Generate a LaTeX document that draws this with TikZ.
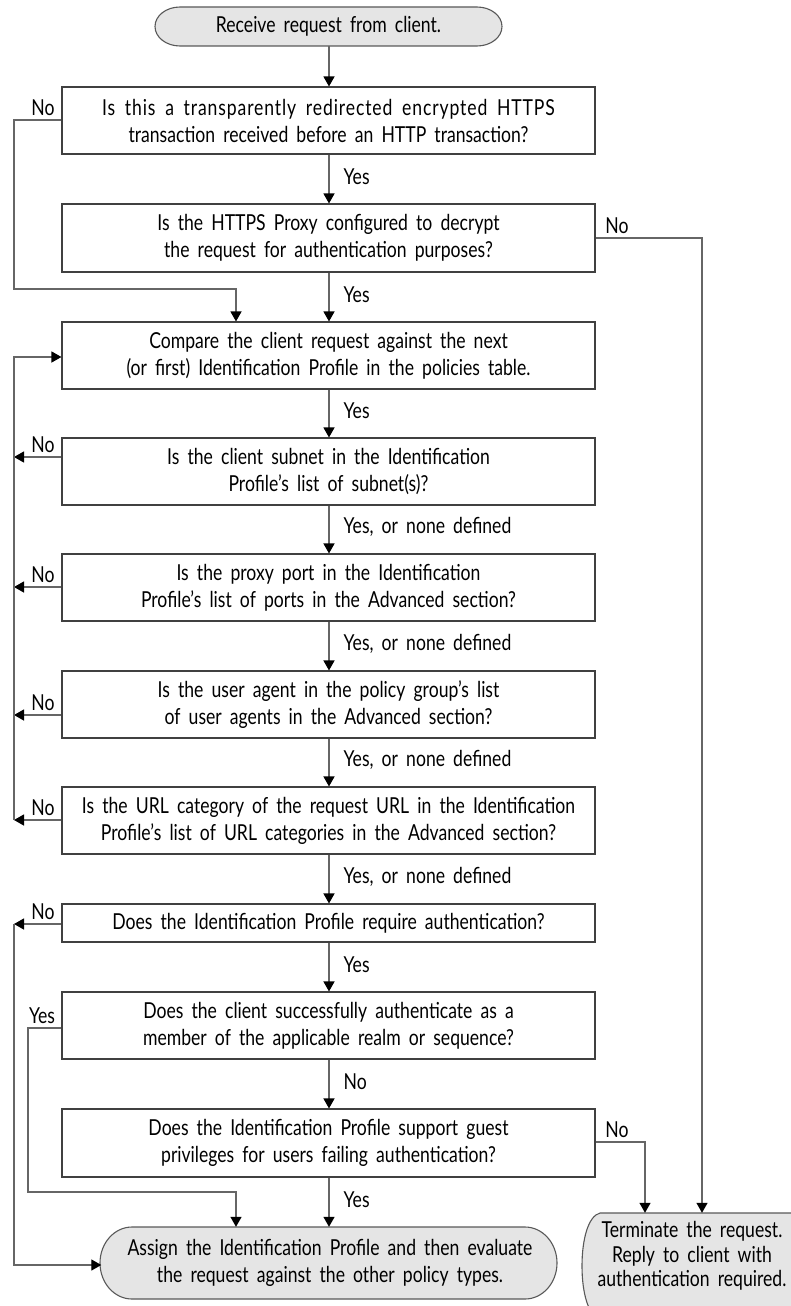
\documentclass[tikz,border=0pt]{standalone}
\usepackage{fontspec}
\setmainfont[FakeStretch=0.8,WordSpace=1.8]{Lato}
\usetikzlibrary{arrows.meta}
\begin{document}
\begin{tikzpicture}[x=1pt,y=1pt,
  txt/.style={font=\fontsize{22}{27}\selectfont, inner sep=0pt, align=center},
  box/.style={txt, draw=black!75, line width=1.1pt, fill=white, minimum width=533pt},
  termshape/.style={draw=black!65, line width=1.1pt, fill=black!10},
  conn/.style={draw=black!60, line width=1.3pt},
  arr/.style={conn, -{Triangle[width=11pt,length=10pt,fill=black,color=black]}},
  lbl/.style={txt, anchor=west},
  sidelbl/.style={txt, anchor=south}]
\useasboundingbox (0,0) rectangle (791,-1306);

% terminal shapes
\filldraw[termshape] (180,-7) -- (477,-7) arc[start angle=90,end angle=-90,x radius=25,y radius=19.5] -- (180,-46) arc[start angle=270,end angle=90,x radius=25,y radius=19.5] -- cycle;
\filldraw[termshape] (132,-1227) -- (525,-1227) arc[start angle=90,end angle=-90,x radius=32,y radius=36] -- (132,-1299) arc[start angle=270,end angle=90,x radius=32,y radius=36] -- cycle;
\filldraw[termshape] (600,-1213) -- (795,-1213) .. controls (805,-1216) and (809,-1240) .. (809,-1266) .. controls (809,-1292) and (805,-1316) .. (795,-1319) -- (600,-1319) .. controls (588,-1316) and (582,-1292) .. (582,-1266) .. controls (582,-1240) and (588,-1216) .. (600,-1213) -- cycle;

\node[txt, minimum width=347pt, minimum height=39pt] (start) at (328.5,-26.5) {Receive request from client.};
\node[box, minimum height=67pt] (b1) at (328.5,-120.5) {{\addfontfeature{LetterSpace=4}Is this a transparently redirected encrypted HTTPS}\\transaction received before an HTTP transaction?};
\node[box, minimum height=68pt] (b2) at (328.5,-238) {Is the HTTPS Proxy configured to decrypt\\the request for authentication purposes?};
\node[box, minimum height=67pt] (b3) at (328.5,-355.5) {Compare the client request against the next\\(or first) Identification Profile in the policies table.};
\node[box, minimum height=67pt] (b4) at (328.5,-471.5) {Is the client subnet in the Identification\\Profile’s list of subnet(s)?};
\node[box, minimum height=67pt] (b5) at (328.5,-587.5) {Is the proxy port in the Identification\\Profile’s list of ports in the Advanced section?};
\node[box, minimum height=67pt] (b6) at (328.5,-704.5) {Is the user agent in the policy group’s list\\of user agents in the Advanced section?};
\node[box, minimum height=67pt] (b7) at (328.5,-820.5) {Is the URL category of the request URL in the Identification\\Profile’s list of URL categories in the Advanced section?};
\node[box, minimum height=38pt] (b8) at (328.5,-923) {Does the Identification Profile require authentication?};
\node[box, minimum height=67pt] (b9) at (328.5,-1025.5) {Does the client successfully authenticate as a\\member of the applicable realm or sequence?};
\node[box, minimum height=68pt] (b10) at (328.5,-1143) {Does the Identification Profile support guest\\privileges for users failing authentication?};
\node[txt, minimum width=457pt, minimum height=72pt] (assign) at (330,-1263) {Assign the Identification Profile and then evaluate\\the request against the other policy types.};
\node[txt, font=\fontsize{22}{24.5}\selectfont, minimum height=86pt] (term) at (692,-1256) {Terminate the request.\\Reply to client with\\authentication required.};

% main spine
\draw[arr] (start.south -| 329,0) -- (b1.north -| 329,0);
\draw[arr] (b1.south -| 329,0) -- node[lbl, pos=0.45, xshift=14pt] {Yes} (b2.north -| 329,0);
\draw[arr] (b2.south -| 329,0) -- node[lbl, pos=0.45, xshift=14pt] {Yes} (b3.north -| 329,0);
\draw[arr] (b3.south -| 329,0) -- node[lbl, pos=0.45, xshift=14pt] {Yes} (b4.north -| 329,0);
\draw[arr] (b4.south -| 329,0) -- node[lbl, pos=0.45, xshift=14pt] {Yes, or none defined} (b5.north -| 329,0);
\draw[arr] (b5.south -| 329,0) -- node[lbl, pos=0.45, xshift=14pt] {Yes, or none defined} (b6.north -| 329,0);
\draw[arr] (b6.south -| 329,0) -- node[lbl, pos=0.45, xshift=14pt] {Yes, or none defined} (b7.north -| 329,0);
\draw[arr] (b7.south -| 329,0) -- node[lbl, pos=0.45, xshift=14pt] {Yes, or none defined} (b8.north -| 329,0);
\draw[arr] (b8.south -| 329,0) -- node[lbl, pos=0.45, xshift=14pt] {Yes} (b9.north -| 329,0);
\draw[arr] (b9.south -| 329,0) -- node[lbl, pos=0.45, xshift=14pt] {No} (b10.north -| 329,0);
\draw[arr] (b10.south -| 329,0) -- node[lbl, pos=0.45, xshift=14pt] {Yes} (assign.north -| 329,0);

% b1 No -> b3
\coordinate (c1) at (14,-120);
\coordinate (c2) at (14,-289);
\coordinate (c3) at (236,-289);
\draw[arr] (b1.west |- c1) -- (c1) -- (c2) -- (c3) -- (b3.north -| c3);
\node[sidelbl] at (43,-116) {No};

% b2 No -> term
\coordinate (d1) at (702,-238);
\draw[arr] (b2.east |- d1) -- (d1) -- (term.north -| d1);
\node[sidelbl] at (617,-234) {No};

% loop back
\coordinate (l3) at (14,-357);
\coordinate (l4) at (14,-457);
\coordinate (l5) at (14,-587);
\coordinate (l6) at (14,-715);
\coordinate (l7) at (14,-820);
\coordinate (l8) at (14,-924);
\coordinate (l9) at (14,-1265);
\draw[arr] (b4.west |- l4) -- (l4);
\draw[arr] (b5.west |- l5) -- (l5);
\draw[arr] (b6.west |- l6) -- (l6);
\draw[arr] (b7.west |- l7) -- (l7);
\draw[arr] (l7) -- (l3) -- (b3.west |- l3);
\node[sidelbl] at (43,-453) {No};
\node[sidelbl] at (43,-583) {No};
\node[sidelbl] at (43,-711) {No};
\node[sidelbl] at (43,-816) {No};

% b8 No
\draw[arr] (b8.west |- l8) -- (l8);
\draw[arr] (l8) -- (l9) -- (assign.west |- l9);
\node[sidelbl] at (43,-920) {No};

% b9 Yes
\coordinate (e1) at (28,-1028);
\coordinate (e2) at (28,-1192);
\coordinate (e3) at (236,-1192);
\draw[arr] (b9.west |- e1) -- (e1) -- (e2) -- (e3) -- (assign.north -| e3);
\node[sidelbl] at (42,-1024) {Yes};

% b10 No -> term
\coordinate (f1) at (645,-1142);
\draw[arr] (b10.east |- f1) -- (f1) -- (term.north -| f1);
\node[sidelbl] at (617,-1138) {No};
\end{tikzpicture}
\end{document}
